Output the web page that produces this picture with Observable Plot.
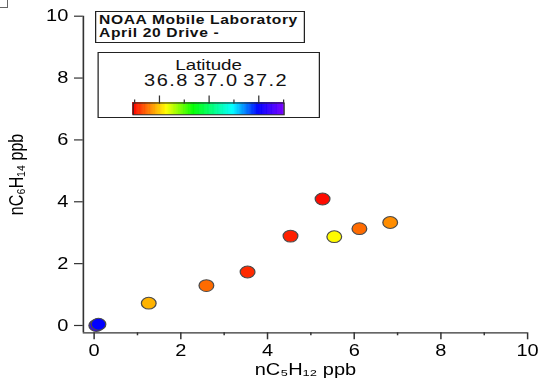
<!DOCTYPE html>
<html><head><meta charset="utf-8">
<script src="https://cdn.jsdelivr.net/npm/d3@7"></script>
<script src="https://cdn.jsdelivr.net/npm/@observablehq/plot@0.6"></script>
<style>
body{margin:0;background:#fff;}
#wrap{position:absolute;left:0;top:0;width:431.2px;height:383px;transform:scale(1.25,1);transform-origin:0 0;}
#chart{position:absolute;left:0;top:0;}
#title{position:absolute;left:76px;top:11px;width:168px;height:32px;box-sizing:border-box;border:1px solid #222;font:bold 12.5px "Liberation Sans",Arial,sans-serif;letter-spacing:0.5px;line-height:13px;padding:1.5px 0 0 2.2px;color:#111;background:#fff;white-space:nowrap;}
#legendBox{position:absolute;left:77.6px;top:52px;width:178.4px;height:66px;box-sizing:border-box;border:1px solid #222;background:#fff;}
#ramp{position:absolute;left:77.6px;top:52px;}
#corner{position:absolute;left:0;top:0;width:7px;height:7px;border-right:1px solid #666;border-bottom:1px solid #666;}
</style></head><body>
<div id="corner"></div>
<div id="wrap">
  <div id="chart"></div>
  <div id="title">NOAA Mobile Laboratory<br>April 20 Drive -</div>
  <div id="legendBox"></div>
  <div id="ramp"></div>
</div>
<script>
// data (nC5H12 ppb, nC6H14 ppb, latitude)
const pentane = [0.05, 0.10, 1.26, 2.59, 3.54, 4.53, 5.27, 5.54, 6.12, 6.83];
const hexane  = [0.00, 0.04, 0.72, 1.29, 1.73, 2.89, 4.09, 2.87, 3.13, 3.33];
const latitude = [37.24, 37.20, 36.788, 36.75, 36.716, 36.711, 36.70, 36.826, 36.75, 36.768];

const xMajorTicks = [0, 2, 4, 6, 8, 10];
const xMinorTicks = [1, 3, 5, 7, 9];
const yMajorTicks = [0, 2, 4, 6, 8, 10];
const latMajorTicks = [36.8, 37.0, 37.2];
const latMinorTicks = [36.7, 36.9, 37.1, 37.3];

const xDomain = [-0.248, 10];
const yDomain = [-0.236, 10];

const colorDomain = [36.694, 36.828, 36.937, 37.095, 37.199, 37.302];
const colorRange = ["#ff0000", "#ffff00", "#00ff00", "#00ffff", "#0000ff", "#7a00ff"];

const font = '"Liberation Sans", Arial, sans-serif';
const colorScale = {type: "linear", domain: colorDomain, range: colorRange, interpolate: "rgb"};

const data = pentane.map((x, i) => ({x, y: hexane[i], lat: latitude[i]}));

const chart = Plot.plot({
  width: 431.2, height: 383,
  marginLeft: 66.2, marginRight: 9.6, marginTop: 15.7, marginBottom: 50.7,
  x: {domain: xDomain},
  y: {domain: yDomain},
  color: colorScale,
  style: {fontFamily: font, fontSize: "16px", color: "#000", background: "transparent", overflow: "visible"},
  marks: [
    Plot.ruleX([xDomain[0]], {stroke: "#333", strokeWidth: 1.3}),
    Plot.ruleY([yDomain[0]], {stroke: "#333", strokeWidth: 1.3}),
    Plot.axisX({ticks: xMajorTicks, tickSize: 7, tickPadding: 5, tickFormat: d => String(d),
      label: "nC₅H₁₂ ppb", labelAnchor: "center", labelOffset: 42.5, labelArrow: "none",
      stroke: "#333", strokeWidth: 1.2, fill: "#000"}),
    Plot.axisX({ticks: xMinorTicks, tickSize: 3, tickFormat: () => "", label: null, stroke: "#333", strokeWidth: 1.2}),
    Plot.axisY({ticks: yMajorTicks, tickSize: 7, tickPadding: 5, tickFormat: d => String(d),
      label: "nC₆H₁₄ ppb", labelAnchor: "center", labelOffset: 60, labelArrow: "none",
      stroke: "#333", strokeWidth: 1.2, fill: "#000"}),
    Plot.dot(data, {x: "x", y: "y", r: 5.9, fill: "lat", stroke: "#4a4a4a", strokeWidth: 1})
  ]
});
document.getElementById("chart").appendChild(chart);

// color bar legend
const lo = colorDomain[0], hi = colorDomain[colorDomain.length - 1];
const rampSteps = d3.range(0, 121).map(i => lo + (hi - lo) * i / 120);
const ramp = Plot.plot({
  width: 178.4, height: 66,
  marginLeft: 28, marginRight: 29.6, marginTop: 50.5, marginBottom: 3.7,
  x: {domain: [lo, hi]},
  color: colorScale,
  style: {fontFamily: font, fontSize: "15px", color: "#111", background: "transparent", overflow: "visible"},
  marks: [
    Plot.barX(rampSteps.slice(0, -1), {x1: d => d, x2: (d, i) => rampSteps[i + 1], fill: d => d, stroke: d => d, strokeWidth: 0.5, inset: 0}),
    Plot.frame({stroke: "#222"}),
    Plot.axisX({anchor: "top", ticks: latMajorTicks, tickSize: 8, tickPadding: 8.5, tickFormat: d => d.toFixed(1),
      label: "Latitude", labelAnchor: "center", labelOffset: 44, labelArrow: "none",
      stroke: "#333", fill: "#111"}),
    Plot.axisX({anchor: "top", ticks: latMinorTicks, tickSize: 4, tickFormat: () => "", label: null, stroke: "#333"})
  ]
});
document.getElementById("ramp").appendChild(ramp);
// tick labels of the colour bar: slightly larger, spaced, and offset right as in the reference
ramp.querySelectorAll('g[aria-label="x-axis tick label"] text').forEach(t => {
  if (t.textContent) {
    t.style.fontSize = "16px";
    t.style.letterSpacing = "1.2px";
    t.setAttribute("dx", "5.6");
  }
});
</script>
</body></html>
